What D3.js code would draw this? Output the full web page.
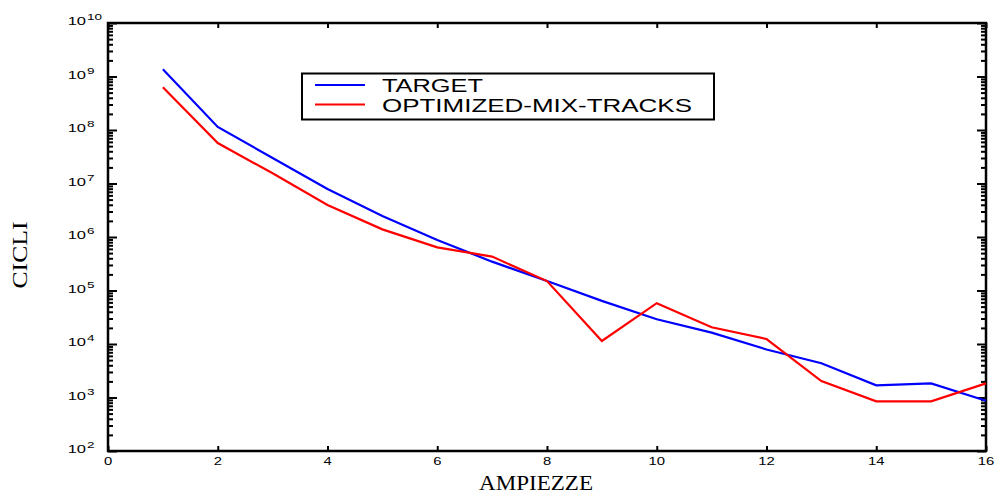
<!DOCTYPE html>
<html>
<head>
<meta charset="utf-8">
<script src="https://cdn.jsdelivr.net/npm/d3@7"></script>
<style>
  body { margin: 0; background: #fff; }
  svg { display: block; }
  .num { font-family: "Liberation Sans", Arial, sans-serif; fill: #000; }
  .lab { font-family: "Liberation Serif", "Times New Roman", serif; fill: #000; }
</style>
</head>
<body>
<svg width="997" height="495"></svg>
<script>
// data
var ampiezze = [1, 2, 3, 4, 5, 6, 7, 8, 9, 10, 11, 12, 13, 14, 15, 16];
var target = [1.36e9, 1.14e8, 3.0e7, 7.9e6, 2.47e6, 8.8e5, 3.46e5, 1.5e5, 6.4e4, 2.9e4, 1.63e4, 7.9e3, 4.36e3, 1.69e3, 1.84e3, 870];
var optimized = [6.3e8, 5.7e7, 1.55e7, 3.96e6, 1.39e6, 6.4e5, 4.3e5, 1.5e5, 1.14e4, 5.8e4, 2.05e4, 1.24e4, 2.03e3, 850, 850, 1.84e3];
var xTicks = [0, 2, 4, 6, 8, 10, 12, 14, 16];
var yExps = [2, 3, 4, 5, 6, 7, 8, 9, 10];
var seriesNames = ["TARGET", "OPTIMIZED-MIX-TRACKS"];
var seriesColors = ["#0000ff", "#ff0000"];

var L = 108, R = 986, T = 23, B = 451;
var svg = d3.select("svg");

var x = d3.scaleLinear().domain([0, 16]).range([L, R]);
var y = d3.scaleLog().domain([1e2, 1e10]).range([B, T]);

var majors = yExps.map(function(e) { return Math.pow(10, e); });
var minors = y.ticks().filter(function(v) { return majors.indexOf(v) < 0; });

function styleAxis(g) {
  g.select(".domain").remove();
  g.selectAll(".tick line").attr("stroke", "#000").attr("stroke-width", 2);
  g.selectAll(".tick text").remove();
}

// left / right ticks, pointing inside
svg.append("g").attr("transform", "translate(" + L + ",0)")
  .call(d3.axisRight(y).tickValues(minors).tickSize(5)).call(styleAxis);
svg.append("g").attr("transform", "translate(" + L + ",0)")
  .call(d3.axisRight(y).tickValues(majors).tickSize(9)).call(styleAxis);
svg.append("g").attr("transform", "translate(" + R + ",0)")
  .call(d3.axisLeft(y).tickValues(minors).tickSize(5)).call(styleAxis);
svg.append("g").attr("transform", "translate(" + R + ",0)")
  .call(d3.axisLeft(y).tickValues(majors).tickSize(9)).call(styleAxis);

// bottom / top ticks
svg.append("g").attr("transform", "translate(0," + B + ")")
  .call(d3.axisTop(x).tickValues(xTicks).tickSize(5)).call(styleAxis);
svg.append("g").attr("transform", "translate(0," + T + ")")
  .call(d3.axisBottom(x).tickValues(xTicks).tickSize(5)).call(styleAxis);

// frame
svg.append("rect").attr("x", L).attr("y", T).attr("width", R - L).attr("height", B - T)
  .attr("fill", "none").attr("stroke", "#000").attr("stroke-width", 2.5);

// y tick labels 10^n
var yl = svg.append("g").selectAll("g").data(yExps).enter().append("g");
yl.append("text").attr("class", "num")
  .attr("transform", function(e) { return "translate(86," + (y(Math.pow(10, e)) + 2) + ") scale(1.5,1)"; })
  .attr("text-anchor", "end").attr("font-size", 11).text("10");
yl.append("text").attr("class", "num")
  .attr("transform", function(e) { return "translate(87," + (y(Math.pow(10, e)) - 3) + ") scale(1.5,1)"; })
  .attr("font-size", 9).text(function(e) { return e; });

// x tick labels
svg.append("g").selectAll("text").data(xTicks).enter().append("text").attr("class", "num")
  .attr("transform", function(d) { return "translate(" + x(d) + ",465) scale(1.35,1)"; })
  .attr("text-anchor", "middle").attr("font-size", 11).text(function(d) { return d; });

// axis titles
svg.append("text").attr("class", "lab").attr("x", 536).attr("y", 490)
  .attr("text-anchor", "middle").attr("font-size", 21)
  .attr("textLength", 114).attr("lengthAdjust", "spacingAndGlyphs").text("AMPIEZZE");
svg.append("text").attr("class", "lab")
  .attr("transform", "translate(27,255) rotate(-90)")
  .attr("text-anchor", "middle").attr("font-size", 21)
  .attr("textLength", 67).attr("lengthAdjust", "spacingAndGlyphs").text("CICLI");

// lines
var line = d3.line().x(function(d) { return x(d[0]); }).y(function(d) { return y(d[1]); });
[target, optimized].forEach(function(s, i) {
  svg.append("path").datum(d3.zip(ampiezze, s))
    .attr("d", line).attr("fill", "none")
    .attr("stroke", seriesColors[i]).attr("stroke-width", 2.2);
});

// legend
var lg = svg.append("g");
lg.append("rect").attr("x", 302).attr("y", 73.5).attr("width", 412).attr("height", 46)
  .attr("fill", "#fff").attr("stroke", "#000").attr("stroke-width", 2);
seriesNames.forEach(function(n, i) {
  var yy = 85 + i * 19.5;
  lg.append("line").attr("x1", 315).attr("x2", 365).attr("y1", yy).attr("y2", yy)
    .attr("stroke", seriesColors[i]).attr("stroke-width", 2);
  lg.append("text").attr("class", "num").attr("x", 382).attr("y", yy + 7)
    .attr("font-size", 19).attr("textLength", i ? 310 : 101)
    .attr("lengthAdjust", "spacingAndGlyphs").text(n);
});
</script>
</body>
</html>
